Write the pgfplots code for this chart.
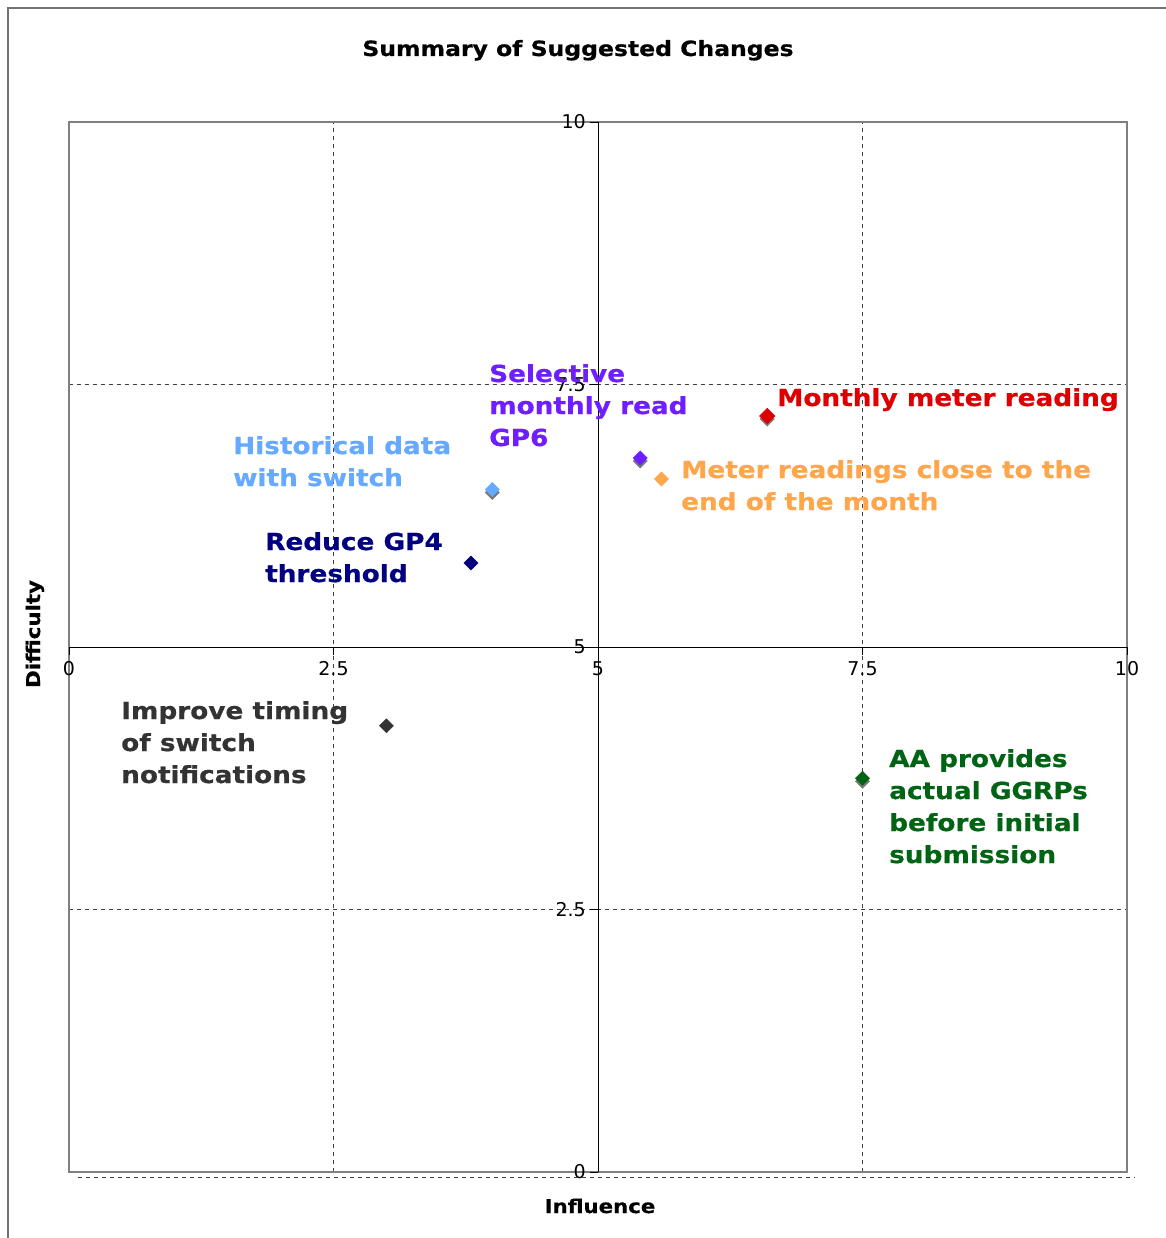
\documentclass[border=0pt]{standalone}
\usepackage{pgfplots}
\pgfplotsset{compat=1.18}
\usepackage{fontspec}
\setmainfont{DejaVu Sans}
\newfontfamily\wide{DejaVu Sans Bold}[FakeStretch=1.12, FakeBold=0.6]
\definecolor{cImp}{RGB}{51,51,51}
\definecolor{cAA}{RGB}{0,100,20}
\definecolor{cRed}{RGB}{0,0,128}
\definecolor{cHist}{RGB}{102,170,255}
\definecolor{cSel}{RGB}{110,30,255}
\definecolor{cMet}{RGB}{255,166,77}
\definecolor{cMon}{RGB}{221,0,0}
\definecolor{shadow}{RGB}{120,120,120}
\newcommand{\lblfont}{\wide\fontsize{23.5}{28}\selectfont}
\begin{document}
\begin{tikzpicture}[x=1pt,y=1pt]
\useasboundingbox (0,0) rectangle (1165,-1238);
\draw[black!55, line width=1.2pt] (8,-1238) -- (8,-8) -- (1166,-8);
\begin{axis}[at={(69pt,-1172pt)}, anchor=south west, scale only axis,
  width=1058pt, height=1050pt, xmin=0, xmax=10, ymin=0, ymax=10,
  xtick={2.5,7.5}, ytick={2.5,7.5}, xticklabels={}, yticklabels={},
  major tick length=0pt, grid=major,
  major grid style={black!75, line width=0.8pt, dash pattern=on 4pt off 4pt},
  axis line style={black!50, line width=1.3pt}, clip=false]
\draw[black, line width=0.8pt] (axis cs:5,0) -- (axis cs:5,10);
\draw[black, line width=0.8pt] (axis cs:0,5) -- (axis cs:10,5);
\pgfplotsinvokeforeach{0,2.5,5,7.5,10}{
  \draw[black, line width=0.8pt] (axis cs:#1,5) -- ++(0pt,-8pt);
  \node[anchor=north, inner sep=0pt, font=\fontsize{19}{22}\selectfont] at ([yshift=-14pt]axis cs:#1,5) {#1};
  \draw[black, line width=0.8pt] (axis cs:5,#1) -- ++(-8pt,0pt);
  \node[anchor=east, inner sep=0pt, font=\fontsize{19}{22}\selectfont] at ([xshift=-12pt]axis cs:5,#1) {#1};
}
% shadows
\addplot[only marks, mark=square*, mark size=5pt, mark options={yshift=-3pt, rotate=45, draw=shadow, fill=shadow}]
  coordinates {(4.0,6.5) (5.4,6.8) (6.6,7.2) (7.5,3.75)};
\addplot[only marks, mark=square*, mark size=5pt, mark options={rotate=45, draw=cImp, fill=cImp}] coordinates {(3.0,4.25)};
\addplot[only marks, mark=square*, mark size=5pt, mark options={rotate=45, draw=cAA, fill=cAA}] coordinates {(7.5,3.75)};
\addplot[only marks, mark=square*, mark size=5pt, mark options={rotate=45, draw=cRed, fill=cRed}] coordinates {(3.8,5.8)};
\addplot[only marks, mark=square*, mark size=5pt, mark options={rotate=45, draw=cHist, fill=cHist}] coordinates {(4.0,6.5)};
\addplot[only marks, mark=square*, mark size=5pt, mark options={rotate=45, draw=cSel, fill=cSel}] coordinates {(5.4,6.8)};
\addplot[only marks, mark=square*, mark size=5pt, mark options={rotate=45, draw=cMet, fill=cMet}] coordinates {(5.6,6.6)};
\addplot[only marks, mark=square*, mark size=5.5pt, mark options={rotate=45, draw=cMon, fill=cMon}] coordinates {(6.6,7.2)};
\end{axis}
\draw[black!75, line width=0.8pt, dash pattern=on 4pt off 4pt] (78,-1177) -- (1135,-1177);
% title and axis labels
\node[anchor=base, inner sep=0pt, font=\wide\fontsize{21}{25}\selectfont] at (578,-56) {Summary of Suggested Changes};
\node[anchor=base, inner sep=0pt, font=\wide\fontsize{19}{23}\selectfont] at (600,-1213) {Influence};
\node[anchor=base, rotate=90, inner sep=0pt, font=\wide\fontsize{19}{23}\selectfont] at (40,-634) {Difficulty};
% point labels
\begin{scope}[every node/.style={anchor=base west, inner sep=0pt, font=\lblfont}]
\node[text=cImp] at (121,-719) {Improve timing};
\node[text=cImp] at (121,-751) {of switch};
\node[text=cImp] at (121,-783) {notifications};
\node[text=cAA] at (889,-767) {AA provides};
\node[text=cAA] at (889,-799) {actual GGRPs};
\node[text=cAA] at (889,-831) {before initial};
\node[text=cAA] at (889,-863) {submission};
\node[text=cRed] at (265,-550) {Reduce GP4};
\node[text=cRed] at (265,-582) {threshold};
\node[text=cHist] at (233,-454) {Historical data};
\node[text=cHist] at (233,-486) {with switch};
\node[text=cSel] at (489,-382) {Selective};
\node[text=cSel] at (489,-414) {monthly read};
\node[text=cSel] at (489,-446) {GP6};
\node[text=cMet] at (681,-478) {Meter readings close to the};
\node[text=cMet] at (681,-510) {end of the month};
\node[text=cMon] at (777,-406) {Monthly meter reading};
\end{scope}
\end{tikzpicture}
\end{document}
